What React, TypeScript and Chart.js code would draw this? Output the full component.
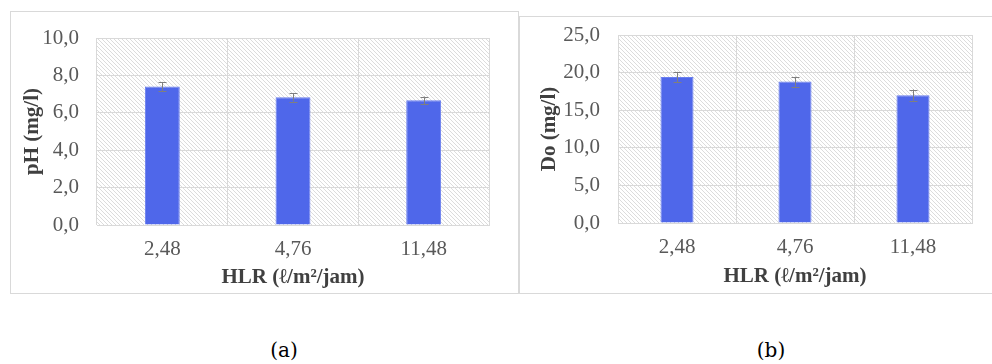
import React, { useEffect, useRef } from "react";
import { Chart, registerables } from "chart.js";

Chart.register(...registerables);

const categories = ["2,48", "4,76", "11,48"];
const phValues = [7.4, 6.83, 6.67];
const phErrors = [0.25, 0.23, 0.2];
const doValues = [19.4, 18.8, 17.0];
const doErrors = [0.7, 0.65, 0.75];
const phTicks = [0, 2, 4, 6, 8, 10];
const doTicks = [0, 5, 10, 15, 20, 25];

const BAR_COLOR = "#4f67ea";
const GRID = "#d9d9d9";
const TICK_COLOR = "#595959";
const TITLE_COLOR = "#404040";
const FONT = "'Liberation Serif', 'Times New Roman', serif";
const FS = 21;

function makePattern(ctx: CanvasRenderingContext2D) {
  const c = document.createElement("canvas");
  c.width = 4;
  c.height = 4;
  const p = c.getContext("2d")!;
  p.fillStyle = "#ffffff";
  p.fillRect(0, 0, 4, 4);
  p.strokeStyle = "#dcdcdc";
  p.lineWidth = 1;
  p.beginPath();
  p.moveTo(-1, -1);
  p.lineTo(5, 5);
  p.stroke();
  return ctx.createPattern(c, "repeat");
}

const hatchPlugin = {
  id: "hatch",
  beforeDraw(chart: any) {
    const { ctx, chartArea } = chart;
    const pat = makePattern(ctx);
    ctx.save();
    ctx.fillStyle = pat || "#f0f0f0";
    ctx.fillRect(chartArea.left, chartArea.top, chartArea.right - chartArea.left, chartArea.bottom - chartArea.top);
    ctx.restore();
  },
};

const errorPlugin = {
  id: "errbars",
  afterDatasetsDraw(chart: any, _args: any, opts: any) {
    const errs: number[] = opts.errors || [];
    const meta = chart.getDatasetMeta(0);
    const ys = chart.scales.y;
    const vals = chart.data.datasets[0].data as number[];
    const { ctx } = chart;
    ctx.save();
    ctx.strokeStyle = "#7f7f7f";
    ctx.lineWidth = 1;
    meta.data.forEach((bar: any, i: number) => {
      const x = Math.round(bar.x) + 0.5;
      const top = ys.getPixelForValue(vals[i] + errs[i]);
      const bot = ys.getPixelForValue(vals[i] - errs[i]);
      ctx.beginPath();
      ctx.moveTo(x, top);
      ctx.lineTo(x, bot);
      ctx.moveTo(x - 4, Math.round(top) + 0.5);
      ctx.lineTo(x + 4, Math.round(top) + 0.5);
      ctx.moveTo(x - 4, Math.round(bot) + 0.5);
      ctx.lineTo(x + 4, Math.round(bot) + 0.5);
      ctx.stroke();
    });
    ctx.restore();
  },
};

type Cfg = {
  values: number[];
  errors: number[];
  ticks: number[];
  yTitle: string;
  padLeft: number;
  padRight: number;
  padTop: number;
  yWidth: number;
  xHeight: number;
  barPct: number;
  xTickPad: number;
  titlePadBottom: number;
};

function BarChart({ cfg, width, height }: { cfg: Cfg; width: number; height: number }) {
  const ref = useRef<HTMLCanvasElement>(null);
  useEffect(() => {
    const ticks = cfg.ticks;
    const chart = new Chart(ref.current!, {
      type: "bar",
      data: {
        labels: categories,
        datasets: [
          {
            data: cfg.values,
            backgroundColor: BAR_COLOR,
            borderColor: "#6a7ff0",
            borderWidth: 1,
            barPercentage: cfg.barPct,
            categoryPercentage: 1,
          },
        ],
      },
      options: {
        animation: false,
        responsive: false,
        maintainAspectRatio: false,
        layout: { padding: { left: cfg.padLeft, right: cfg.padRight, top: cfg.padTop, bottom: 0 } },
        plugins: {
          legend: { display: false },
          tooltip: { enabled: false },
          errbars: { errors: cfg.errors },
        } as any,
        scales: {
          x: {
            grid: { color: GRID, drawTicks: false, offset: true },
            border: { color: GRID },
            ticks: { color: TICK_COLOR, font: { family: FONT, size: FS }, padding: cfg.xTickPad },
            title: {
              display: true,
              text: "HLR (ℓ/m²/jam)",
              color: TITLE_COLOR,
              font: { family: FONT, size: FS, weight: "bold" },
              padding: { top: 0, bottom: cfg.titlePadBottom },
            },
            afterFit: (s: any) => {
              s.height = cfg.xHeight;
              s.paddingLeft = 0;
              s.paddingRight = 0;
            },
          },
          y: {
            min: ticks[0],
            max: ticks[ticks.length - 1],
            afterBuildTicks: (s: any) => {
              s.ticks = ticks.map((v) => ({ value: v }));
            },
            grid: { color: GRID, drawTicks: false },
            border: { display: false },
            ticks: {
              color: TICK_COLOR,
              font: { family: FONT, size: FS },
              padding: 18,
              callback: (v: any) => Number(v).toFixed(1).replace(".", ","),
            },
            title: {
              display: true,
              text: cfg.yTitle,
              color: TITLE_COLOR,
              font: { family: FONT, size: FS, weight: "bold" },
              padding: { top: 0, bottom: 0 },
            },
            afterFit: (s: any) => {
              s.width = cfg.yWidth;
              s.paddingTop = 0;
              s.paddingBottom = 0;
            },
          },
        },
      },
      plugins: [hatchPlugin, errorPlugin],
    });
    return () => chart.destroy();
  }, []);
  return <canvas ref={ref} width={width} height={height} style={{ display: "block", width, height }} />;
}

const leftCfg: Cfg = {
  values: phValues,
  errors: phErrors,
  ticks: phTicks,
  yTitle: "pH (mg/l)",
  padLeft: 10,
  padRight: 29,
  padTop: 27,
  yWidth: 77,
  xHeight: 69,
  barPct: 0.267,
  xTickPad: 12,
  titlePadBottom: 4,
};

const rightCfg: Cfg = {
  values: doValues,
  errors: doErrors,
  ticks: doTicks,
  yTitle: "Do (mg/l)",
  padLeft: 17,
  padRight: 20,
  padTop: 19,
  yWidth: 81,
  xHeight: 70,
  barPct: 0.28,
  xTickPad: 12,
  titlePadBottom: 4,
};

const labelStyle: React.CSSProperties = {
  position: "absolute",
  width: 100,
  top: 336,
  textAlign: "center",
  fontFamily: "'DejaVu Serif', serif",
  fontSize: 20,
  color: "#000",
  lineHeight: "28px",
};

export default function App() {
  return (
    <div style={{ position: "absolute", left: 0, top: 0, width: 992, height: 364, background: "#fff", overflow: "hidden" }}>
      <div style={{ position: "absolute", left: 10, top: 11, width: 507, height: 281, border: "1px solid #d9d9d9" }} />
      <div style={{ position: "absolute", left: 519, top: 16, width: 500, height: 276, border: "1px solid #d9d9d9" }} />
      <div style={{ position: "absolute", left: 10, top: 11 }}>
        <BarChart cfg={leftCfg} width={508} height={283} />
      </div>
      <div style={{ position: "absolute", left: 520, top: 16 }}>
        <BarChart cfg={rightCfg} width={472} height={277} />
      </div>
      <div style={{ ...labelStyle, left: 234 }}>(a)</div>
      <div style={{ ...labelStyle, left: 721 }}>(b)</div>
    </div>
  );
}
